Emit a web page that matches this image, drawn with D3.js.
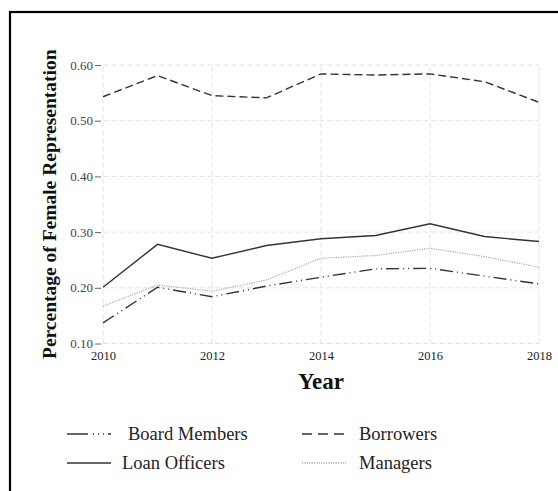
<!DOCTYPE html>
<html><head><meta charset="utf-8">
<script src="https://cdn.jsdelivr.net/npm/d3@7"></script>
<style>html,body{margin:0;padding:0;background:#fff;}svg{display:block;}</style>
</head><body>
<script>
const years = [2010, 2011, 2012, 2013, 2014, 2015, 2016, 2017, 2018];
const boardMembers = [0.137, 0.201, 0.184, 0.203, 0.219, 0.234, 0.235, 0.221, 0.207];
const borrowers = [0.543, 0.581, 0.545, 0.541, 0.584, 0.582, 0.584, 0.570, 0.533];
const loanOfficers = [0.201, 0.278, 0.253, 0.276, 0.288, 0.294, 0.315, 0.292, 0.283];
const managers = [0.167, 0.205, 0.194, 0.214, 0.253, 0.258, 0.271, 0.256, 0.237];
const seriesNames = ["Board Members", "Borrowers", "Loan Officers", "Managers"];
const xTicks = [2010, 2012, 2014, 2016, 2018];
const yTicks = [0.10, 0.20, 0.30, 0.40, 0.50, 0.60];

const W = 558, H = 491;
const serif = "'Liberation Serif','Times New Roman',serif";
const svg = d3.select("body").append("svg").attr("width", W).attr("height", H);

svg.append("rect").attr("x", 10).attr("y", 12).attr("width", 700).attr("height", 700)
  .attr("fill", "none").attr("stroke", "#000").attr("stroke-width", 2.2);

const x = d3.scaleLinear().domain([2010, 2018]).range([103, 539]);
const y = d3.scaleLinear().domain([0.10, 0.60]).range([343.5, 65]);

// grid
const g = svg.append("g");
g.selectAll(".hg").data(yTicks).join("line")
  .attr("x1", x(2010)).attr("x2", x(2018)).attr("y1", d => y(d)).attr("y2", d => y(d))
  .attr("stroke", "#e2e2e2").attr("stroke-width", 1).attr("stroke-dasharray", "5,3");
g.selectAll(".vg").data(xTicks).join("line")
  .attr("y1", y(0.10)).attr("y2", y(0.60)).attr("x1", d => x(d)).attr("x2", d => x(d))
  .attr("stroke", "#e2e2e2").attr("stroke-width", 1).attr("stroke-dasharray", "5,3");

// y axis
const yAxis = svg.append("g").attr("transform", `translate(${x(2010) - 2},0)`)
  .call(d3.axisLeft(y).tickValues(yTicks).tickFormat(d3.format(".2f")).tickSize(6).tickPadding(2));
yAxis.select(".domain").remove();
yAxis.selectAll("line").attr("stroke", "#666");
yAxis.selectAll("text").attr("font-family", serif).attr("font-size", 13).attr("fill", "#444");

// x axis
const xAxis = svg.append("g").attr("transform", `translate(0,${y(0.10)})`)
  .call(d3.axisBottom(x).tickValues(xTicks).tickFormat(d3.format("d")).tickSize(0).tickPadding(8));
xAxis.select(".domain").remove();
xAxis.selectAll("text").attr("font-family", serif).attr("font-size", 12.5).attr("fill", "#222");

// titles
svg.append("text").attr("x", (x(2010) + x(2018)) / 2).attr("y", 389).attr("text-anchor", "middle")
  .attr("font-family", serif).attr("font-weight", "bold").attr("font-size", 23).attr("fill", "#111").text("Year");
svg.append("text").attr("transform", `translate(56,${(y(0.1) + y(0.6)) / 2}) rotate(-90)`)
  .attr("text-anchor", "middle").attr("font-family", serif).attr("font-weight", "bold")
  .attr("font-size", 19.5).attr("fill", "#111").text("Percentage of Female Representation");

const seriesData = [boardMembers, borrowers, loanOfficers, managers];
const styles = [
  {stroke: "#333", dash: "13,4,1,4,1,4", keyDash: "21,5,1,4,1,4,1,4", width: 1.4},
  {stroke: "#333", dash: "8,4", keyDash: "10,6", width: 1.4},
  {stroke: "#333", dash: null, keyDash: null, width: 1.4},
  {stroke: "#aaa", dash: "1.2,1.2", keyDash: "1.2,1.2", width: 1.2}
];

const line = d3.line().x((d, i) => x(years[i])).y(d => y(d));
seriesData.forEach((s, k) => {
  svg.append("path").datum(s).attr("d", line).attr("fill", "none")
    .attr("stroke", styles[k].stroke).attr("stroke-width", styles[k].width)
    .attr("stroke-dasharray", styles[k].dash);
});

// legend
const legPos = [
  {kx: 67, ky: 434, tx: 128},
  {kx: 302, ky: 434, tx: 359},
  {kx: 67, ky: 463, tx: 122},
  {kx: 302, ky: 463, tx: 359}
];
seriesNames.forEach((n, k) => {
  const p = legPos[k];
  svg.append("line").attr("x1", p.kx).attr("x2", p.kx + 44).attr("y1", p.ky).attr("y2", p.ky)
    .attr("stroke", styles[k].stroke).attr("stroke-width", styles[k].width + 0.2)
    .attr("stroke-dasharray", styles[k].keyDash);
  svg.append("text").attr("x", p.tx).attr("y", p.ky + 6).attr("font-family", serif)
    .attr("font-size", 18.5).attr("fill", "#222").text(n);
});
</script>
</body></html>
